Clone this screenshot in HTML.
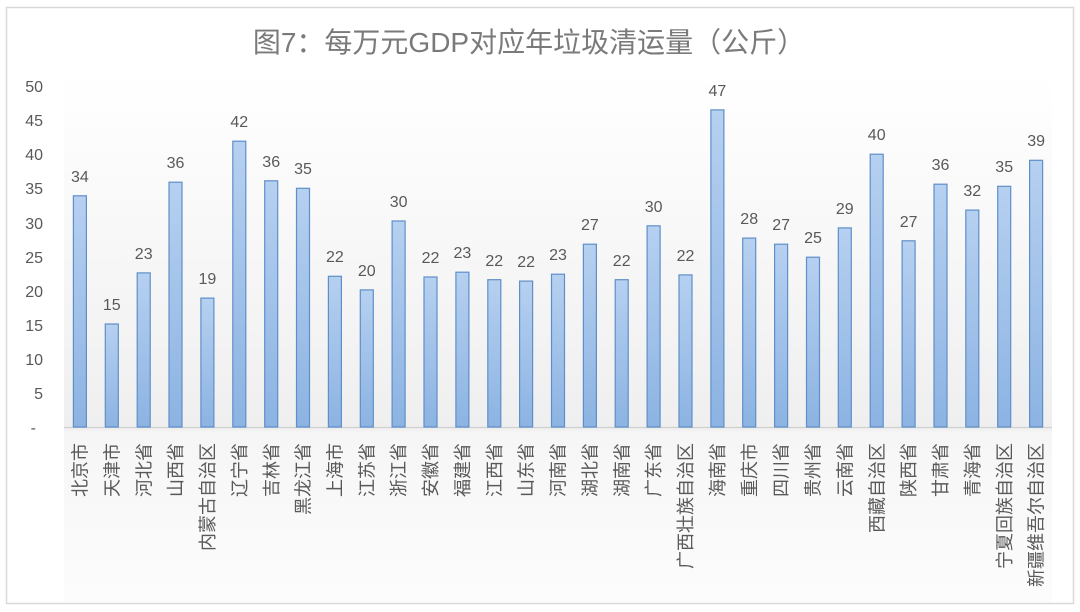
<!DOCTYPE html>
<html><head><meta charset="utf-8"><style>
html,body{margin:0;padding:0;background:#fff;}
svg{display:block;}
text{font-family:"Liberation Sans","Noto Sans CJK SC",sans-serif;}
</style></head><body>
<svg width="1080" height="612" viewBox="0 0 1080 612" xmlns="http://www.w3.org/2000/svg">
<defs>
<linearGradient id="pa" x1="0" y1="0" x2="0" y2="1">
<stop offset="0" stop-color="#ffffff"/>
<stop offset="0.67" stop-color="#efefef"/>
<stop offset="0.68" stop-color="#f6f6f6"/>
<stop offset="1" stop-color="#fcfcfc"/>
</linearGradient>
<linearGradient id="bg" x1="0" y1="0" x2="0" y2="1">
<stop offset="0" stop-color="#b6d0f0"/>
<stop offset="1" stop-color="#8cb3e2"/>
</linearGradient>
</defs>
<rect x="0" y="0" width="1080" height="612" fill="#fff"/>
<rect x="6.5" y="7.5" width="1067" height="596" fill="#fff" stroke="#d9d9d9" stroke-width="1.5"/>
<rect x="64" y="75" width="988" height="527" fill="url(#pa)"/>
<line x1="64" y1="427.5" x2="1052" y2="427.5" stroke="#d0d0d0" stroke-width="1.2"/>
<text x="529" y="52" font-size="28" fill="#7a7a7a" text-anchor="middle">图7：每万元GDP对应年垃圾清运量（公斤）</text>
<g font-size="16" fill="#595959" text-anchor="end">
<text x="43" y="92">50</text>
<text x="43" y="126">45</text>
<text x="43" y="160">40</text>
<text x="43" y="194">35</text>
<text x="43" y="229">30</text>
<text x="43" y="263">25</text>
<text x="43" y="297">20</text>
<text x="43" y="331">15</text>
<text x="43" y="365">10</text>
<text x="43" y="399">5</text>
<text x="36" y="433">-</text>
</g>
<g fill="url(#bg)" stroke="#5f8fc8" stroke-width="1.2">
<rect x="73.4" y="195.8" width="13" height="231.2"/>
<rect x="105.3" y="324.0" width="13" height="103.0"/>
<rect x="137.2" y="272.9" width="13" height="154.1"/>
<rect x="169.0" y="182.2" width="13" height="244.8"/>
<rect x="200.9" y="298.1" width="13" height="128.9"/>
<rect x="232.8" y="141.2" width="13" height="285.8"/>
<rect x="264.7" y="180.8" width="13" height="246.2"/>
<rect x="296.5" y="188.3" width="13" height="238.7"/>
<rect x="328.4" y="276.3" width="13" height="150.7"/>
<rect x="360.3" y="289.9" width="13" height="137.1"/>
<rect x="392.1" y="221.0" width="13" height="206.0"/>
<rect x="424.0" y="277.0" width="13" height="150.0"/>
<rect x="455.9" y="272.2" width="13" height="154.8"/>
<rect x="487.8" y="279.7" width="13" height="147.3"/>
<rect x="519.6" y="281.1" width="13" height="145.9"/>
<rect x="551.5" y="274.2" width="13" height="152.8"/>
<rect x="583.4" y="244.2" width="13" height="182.8"/>
<rect x="615.2" y="279.7" width="13" height="147.3"/>
<rect x="647.1" y="225.8" width="13" height="201.2"/>
<rect x="679.0" y="274.9" width="13" height="152.1"/>
<rect x="710.9" y="109.9" width="13" height="317.1"/>
<rect x="742.7" y="238.1" width="13" height="188.9"/>
<rect x="774.6" y="244.2" width="13" height="182.8"/>
<rect x="806.5" y="257.2" width="13" height="169.8"/>
<rect x="838.3" y="227.9" width="13" height="199.1"/>
<rect x="870.2" y="154.2" width="13" height="272.8"/>
<rect x="902.1" y="240.8" width="13" height="186.2"/>
<rect x="934.0" y="184.2" width="13" height="242.8"/>
<rect x="965.8" y="210.1" width="13" height="216.9"/>
<rect x="997.7" y="186.3" width="13" height="240.7"/>
<rect x="1029.6" y="160.3" width="13" height="266.7"/>
</g>
<g font-size="16" fill="#595959" text-anchor="middle">
<text x="79.9" y="182">34</text>
<text x="111.8" y="310">15</text>
<text x="143.7" y="259">23</text>
<text x="175.5" y="168">36</text>
<text x="207.4" y="284">19</text>
<text x="239.3" y="127">42</text>
<text x="271.2" y="167">36</text>
<text x="303.0" y="174">35</text>
<text x="334.9" y="262">22</text>
<text x="366.8" y="276">20</text>
<text x="398.6" y="207">30</text>
<text x="430.5" y="263">22</text>
<text x="462.4" y="258">23</text>
<text x="494.3" y="266">22</text>
<text x="526.1" y="267">22</text>
<text x="558.0" y="260">23</text>
<text x="589.9" y="230">27</text>
<text x="621.7" y="266">22</text>
<text x="653.6" y="212">30</text>
<text x="685.5" y="261">22</text>
<text x="717.4" y="96">47</text>
<text x="749.2" y="224">28</text>
<text x="781.1" y="230">27</text>
<text x="813.0" y="243">25</text>
<text x="844.8" y="214">29</text>
<text x="876.7" y="140">40</text>
<text x="908.6" y="227">27</text>
<text x="940.5" y="170">36</text>
<text x="972.3" y="196">32</text>
<text x="1004.2" y="172">35</text>
<text x="1036.1" y="146">39</text>
</g>
<g font-size="18" fill="#595959" text-anchor="end">
<text transform="translate(86.5,443) rotate(-90)">北京市</text>
<text transform="translate(118.4,443) rotate(-90)">天津市</text>
<text transform="translate(150.3,443) rotate(-90)">河北省</text>
<text transform="translate(182.1,443) rotate(-90)">山西省</text>
<text transform="translate(214.0,443) rotate(-90)">内蒙古自治区</text>
<text transform="translate(245.9,443) rotate(-90)">辽宁省</text>
<text transform="translate(277.8,443) rotate(-90)">吉林省</text>
<text transform="translate(309.6,443) rotate(-90)">黑龙江省</text>
<text transform="translate(341.5,443) rotate(-90)">上海市</text>
<text transform="translate(373.4,443) rotate(-90)">江苏省</text>
<text transform="translate(405.2,443) rotate(-90)">浙江省</text>
<text transform="translate(437.1,443) rotate(-90)">安徽省</text>
<text transform="translate(469.0,443) rotate(-90)">福建省</text>
<text transform="translate(500.9,443) rotate(-90)">江西省</text>
<text transform="translate(532.7,443) rotate(-90)">山东省</text>
<text transform="translate(564.6,443) rotate(-90)">河南省</text>
<text transform="translate(596.5,443) rotate(-90)">湖北省</text>
<text transform="translate(628.3,443) rotate(-90)">湖南省</text>
<text transform="translate(660.2,443) rotate(-90)">广东省</text>
<text transform="translate(692.1,443) rotate(-90)">广西壮族自治区</text>
<text transform="translate(724.0,443) rotate(-90)">海南省</text>
<text transform="translate(755.8,443) rotate(-90)">重庆市</text>
<text transform="translate(787.7,443) rotate(-90)">四川省</text>
<text transform="translate(819.6,443) rotate(-90)">贵州省</text>
<text transform="translate(851.4,443) rotate(-90)">云南省</text>
<text transform="translate(883.3,443) rotate(-90)">西藏自治区</text>
<text transform="translate(915.2,443) rotate(-90)">陕西省</text>
<text transform="translate(947.1,443) rotate(-90)">甘肃省</text>
<text transform="translate(978.9,443) rotate(-90)">青海省</text>
<text transform="translate(1010.8,443) rotate(-90)">宁夏回族自治区</text>
<text transform="translate(1042.7,443) rotate(-90)">新疆维吾尔自治区</text>
</g>
</svg>
</body></html>
